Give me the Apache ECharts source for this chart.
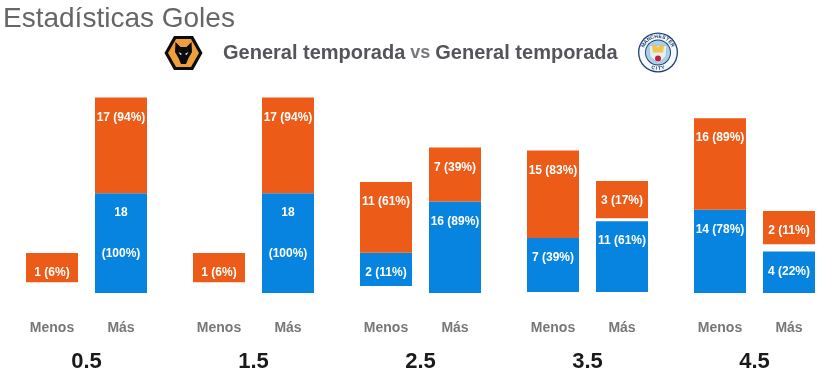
<!DOCTYPE html>
<html>
<head>
<meta charset="utf-8">
<title>Estadísticas Goles</title>
<script src="https://cdn.jsdelivr.net/npm/echarts@6/dist/echarts.min.js"></script>
<style>
  html, body { margin: 0; padding: 0; background: #fff; }
  #chart { width: 837px; height: 375px; }
</style>
</head>
<body>
<div id="chart"></div>
<script>
// Datos
const lines = ['0.5', '1.5', '2.5', '3.5', '4.5'];
const sides = ['Menos', 'Más'];
const menosWolves = [1, 1, 11, 15, 16];
const menosWolvesPct = [6, 6, 61, 83, 89];
const masWolves = [17, 17, 7, 3, 2];
const masWolvesPct = [94, 94, 39, 17, 11];
const menosCity = [0, 0, 2, 7, 14];
const menosCityPct = [0, 0, 11, 39, 78];
const masCity = [18, 18, 16, 11, 4];
const masCityPct = [100, 100, 89, 61, 22];

// Los bloques tienen un relleno fijo ademas del valor (en goles)
const BAR_PADDING = 6;
const Y_MAX = 50;
const ORANGE = '#EC5B17';
const BLUE = '#0784E0';

// Pequeños desajustes del original, en goles: [Menos, Más]
const bottomGap = [[2.6, 0], [2.6, 0], [1.7, 0], [0.25, 0.25], [0, 0]];
const middleGap = [[0, 0], [0, 0], [0, 0], [0, 0.7], [0, 1.7]];

const GROUP_LEFT = 17.5;
const GROUP_STEP = 167;
const GROUP_WIDTH = 138;

function barLabel(pctText) {
    return {
        show: true,
        position: 'insideTop',
        distance: 13,
        color: '#fff',
        fontSize: 12,
        fontWeight: 'bold',
        fontFamily: 'Liberation Sans',
        lineHeight: 13.7,
        formatter: pctText
    };
}

function segment(values, pcts, color) {
    return values.map((v, i) => {
        if (!v) return { value: 0, label: { show: false } };
        const text = pcts[i] === 100 ? `${v}\n\n\n(${pcts[i]}%)` : `${v} (${pcts[i]}%)`;
        return { value: v + BAR_PADDING, itemStyle: { color: color }, label: barLabel(text) };
    });
}

const grids = [], xAxes = [], yAxes = [], series = [];

lines.forEach((line, g) => {
    grids.push({ left: GROUP_LEFT + GROUP_STEP * g, width: GROUP_WIDTH, top: 85, height: 208, outerBoundsMode: 'none' });
    xAxes.push({
        type: 'category',
        gridIndex: g,
        data: sides,
        axisLine: { show: false },
        axisTick: { show: false },
        axisLabel: { color: '#777', fontSize: 14, fontWeight: 'bold', fontFamily: 'Liberation Sans', margin: 28 },
        name: line,
        nameLocation: 'middle',
        nameGap: 58,
        nameTextStyle: { color: '#1a1a1a', fontSize: 22, fontWeight: 'bold', fontFamily: 'Liberation Sans' }
    });
    yAxes.push({ type: 'value', gridIndex: g, min: 0, max: Y_MAX, show: false, splitLine: { show: false } });

    const common = { type: 'bar', xAxisIndex: g, yAxisIndex: g, stack: 'g' + g, barWidth: 52, silent: true };
    const spacer = { itemStyle: { color: 'transparent' }, label: { show: false } };
    series.push({ ...common, ...spacer, name: 'base' + g, data: bottomGap[g] });
    series.push({
        ...common,
        name: 'City ' + line,
        itemStyle: { color: BLUE },
        data: segment([menosCity[g], masCity[g]], [menosCityPct[g], masCityPct[g]], BLUE)
    });
    series.push({ ...common, ...spacer, name: 'gap' + g, data: middleGap[g] });
    series.push({
        ...common,
        name: 'Wolves ' + line,
        itemStyle: { color: ORANGE },
        data: segment([menosWolves[g], masWolves[g]], [menosWolvesPct[g], masWolvesPct[g]], ORANGE)
    });
});

// Escudo Wolves
const wolvesBadge = {
    type: 'group',
    x: 183.5,
    y: 53,
    silent: true,
    children: [
        { type: 'polygon', shape: { points: [[-19, 0], [-9.5, -17], [9.5, -17], [19, 0], [9.5, 17], [-9.5, 17]] }, style: { fill: '#0b0b0b' } },
        { type: 'polygon', shape: { points: [[-15.5, 0], [-7.5, -14], [7.5, -14], [15.5, 0], [7.5, 14], [-7.5, 14]] }, style: { fill: '#EE9E3B' } },
        { type: 'polygon', shape: { points: [[-8, -11], [-3, -6], [3, -6], [8, -11], [8.5, -1], [5, 5], [2.5, 11], [-2.5, 11], [-5, 5], [-8.5, -1]] }, style: { fill: '#0b0b0b' } },
        { type: 'polygon', shape: { points: [[-5, -1], [-1.5, 1], [-3, 2]] }, style: { fill: '#fff' } },
        { type: 'polygon', shape: { points: [[5, -1], [1.5, 1], [3, 2]] }, style: { fill: '#fff' } }
    ]
};

// Escudo City
const cityRing = [];
function arcText(word, startDeg, stepDeg, radius, inverted) {
    word.split('').forEach((ch, i) => {
        const deg = startDeg + stepDeg * i;
        const rad = deg * Math.PI / 180;
        cityRing.push({
            type: 'text',
            x: radius * Math.sin(rad),
            y: -radius * Math.cos(rad),
            rotation: (inverted ? 180 - deg : -deg) * Math.PI / 180,
            style: { text: ch, fill: '#1C3F70', font: 'bold 5px "Liberation Sans"', align: 'center', verticalAlign: 'middle' }
        });
    });
}
arcText('MANCHESTER', -63, 14, 16, false);
arcText('CITY', 198, -12, 16, true);

const cityBadge = {
    type: 'group',
    x: 658,
    y: 52.5,
    silent: true,
    children: [
        { type: 'circle', shape: { cx: 0, cy: 0, r: 20 }, style: { fill: '#1C3F70' } },
        { type: 'circle', shape: { cx: 0, cy: 0, r: 18.7 }, style: { fill: '#F4F8FB' } },
        ...cityRing,
        { type: 'circle', shape: { cx: 0, cy: 0, r: 13 }, style: { fill: '#1C3F70' } },
        { type: 'circle', shape: { cx: 0, cy: 0, r: 12 }, style: { fill: '#A9D2EA' } },
        { type: 'polygon', shape: { points: [[-9, -7], [9, -7], [8, 4], [0, 11], [-8, 4]] }, style: { fill: '#E6EEF0', stroke: '#7FA9C9', lineWidth: 0.5 } },
        { type: 'polygon', shape: { points: [[-6, -6], [-3, -8], [0, -5], [3, -8], [6, -6], [5, 0], [-5, 0]] }, style: { fill: '#F2C449' } },
        { type: 'circle', shape: { cx: 0, cy: 6, r: 3 }, style: { fill: '#C0213C' } }
    ]
};

const chart = echarts.init(document.getElementById('chart'), null, { renderer: 'canvas' });
chart.setOption({
    animation: false,
    backgroundColor: '#fff',
    title: [
        {
            text: 'Estadísticas Goles',
            left: 3,
            top: 5,
            padding: 0,
            textStyle: { color: '#666', fontSize: 28, fontWeight: 'normal', fontFamily: 'Liberation Sans' }
        },
        {
            text: '{t|General temporada} {v|vs} {t|General temporada}',
            left: 223,
            top: 43,
            padding: 0,
            textStyle: {
                fontFamily: 'Liberation Sans',
                rich: {
                    t: { color: '#54555A', fontSize: 20, fontWeight: 'bold', fontFamily: 'Liberation Sans' },
                    v: { color: '#77787C', fontSize: 18, fontWeight: 'bold', fontFamily: 'Liberation Sans' }
                }
            }
        }
    ],
    grid: grids,
    xAxis: xAxes,
    yAxis: yAxes,
    series: series,
    graphic: [wolvesBadge, cityBadge]
});
window.addEventListener('resize', () => chart.resize());
</script>
</body>
</html>
